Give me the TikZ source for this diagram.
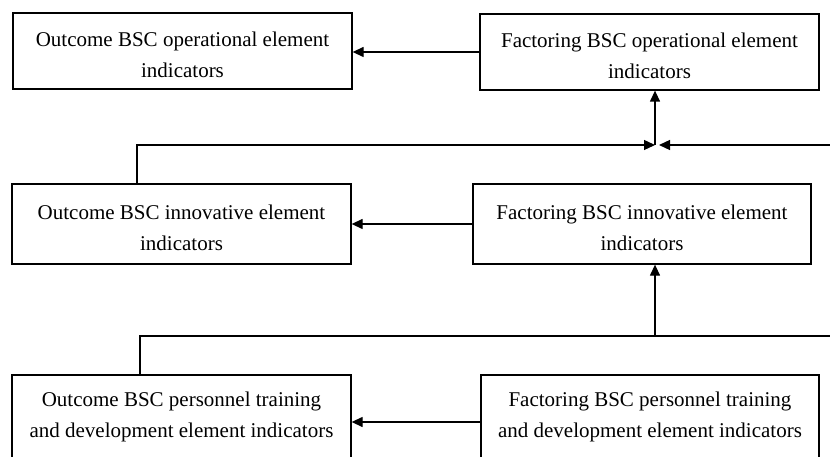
\documentclass[tikz,border=0pt]{standalone}
\usepackage{fontspec}
\setmainfont{Liberation Serif}
\usetikzlibrary{arrows.meta}
\newcommand{\topstrut}{\rule{0pt}{23pt}}
\begin{document}
\begin{tikzpicture}[x=1pt,y=-1pt,
  box/.style={draw=black, line width=1.3pt, minimum width=339pt, inner sep=0pt,
    align=center, font=\fontsize{21}{31}\selectfont},
  conn/.style={draw=black, line width=1.3pt},
  arr/.style={conn, -{Triangle[length=11pt,width=10pt]}}]
\useasboundingbox (0,0) rectangle (830,457);
\clip (0,0) rectangle (830,457);
\node[box, minimum height=76pt] (B1) at (182.5,51) {\topstrut Outcome BSC operational element\\indicators};
\node[box, minimum height=76pt] (B2) at (649.5,52) {\topstrut Factoring BSC operational element\\indicators};
\node[box, minimum height=80pt] (B3) at (181.5,224) {\topstrut Outcome BSC innovative element\\indicators};
\node[box, minimum height=80pt, minimum width=338pt] (B4) at (642,224) {\topstrut Factoring BSC innovative element\\indicators};
\node[box, minimum height=84pt] (B5) at (181.5,417) {Outcome BSC personnel training\\and development element indicators};
\node[box, minimum height=84pt, minimum width=338pt] (B6) at (650,417) {Factoring BSC personnel training\\and development element indicators};
\coordinate (j1) at (655,145);
\coordinate (a1) at (137,145);
\coordinate (r1) at (830,145);
\coordinate (j2) at (655,336);
\coordinate (a2) at (140,336);
\coordinate (r2) at (830,336);
% horizontal arrows
\draw[arr] (B2.west) -- (B2.west -| B1.east);
\draw[arr] (B4.west) -- (B4.west -| B3.east);
\draw[arr] ([yshift=-5pt]B6.west) -- ([yshift=-5pt]B6.west -| B5.east);
% upper junction
\draw[arr] (a1 |- B3.north) -- (a1) -- (j1);
\draw[arr] (r1) -- ([xshift=4pt]j1);
\draw[arr] (j1) -- (j1 |- B2.south);
% lower junction
\draw[conn] (a2 |- B5.north) -- (a2) -- (r2);
\draw[arr] (j2) -- (j2 |- B4.south);
\end{tikzpicture}
\end{document}
